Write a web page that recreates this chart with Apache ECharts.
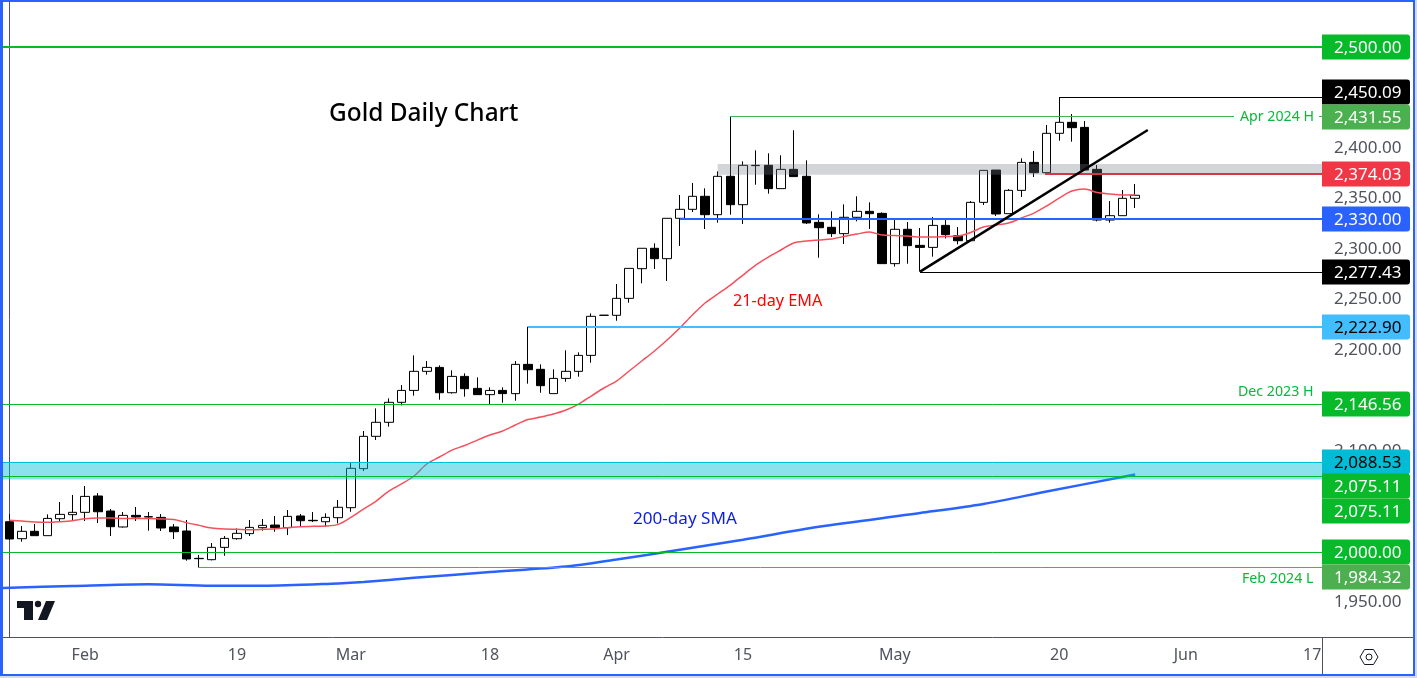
<!DOCTYPE html>
<html><head><meta charset="utf-8">
<style>html,body{margin:0;padding:0;background:#fff}#c{width:1417px;height:678px}</style>
<script src="https://cdn.jsdelivr.net/npm/echarts@6/dist/echarts.min.js"></script>
</head><body><div id="c"></div>
<script>
// ---------- data (index = trading day, 0 = 24 Jan) ----------
const opens=[2029.7,2012.9,2020.2,2015.9,2032.7,2036.7,2039.0,2055.2,2040.3,2024.5,2036.0,2034.7,2034.0,2024.5,2020.5,1993.4,1992.1,2004.3,2012.9,2017.9,2023.8,2026.4,2023.8,2035.4,2031.1,2029.7,2033.7,2043.6,
2082.3,2114.3,2128.2,2148.0,2159.8,2178.7,2182.6,2157.5,2173.7,2161.8,2155.6,2159.8,2156.6,2185.6,2180.7,2156.6,2171.7,2178.7,2194.5,2234.3,2234.2,2251.0,2280.4,2300.6,2290.3,2330.3,2339.2,2352.1,2333.9,2371.9,2343.8,2382.8,2382.8,2359.7,2378.8,2371.9,2326.3,2321.4,2315.1,2331.3,2337.2,2335.2,
2285.4,2319.4,2303.5,2301.5,2323.3,2313.1,2308.1,2346.1,2378.1,2334.9,2358.0,2385.7,2375.5,2414.5,2425.4,2420.4,2378.8,2328.6,2332.9,2350.1];
const closes=[2012.6,2020.2,2015.9,2033.0,2037.0,2039.0,2054.8,2039.6,2024.8,2036.0,2034.4,2034.4,2023.5,2019.8,1992.8,1993.1,2004.3,2013.2,2018.2,2024.1,2026.1,2023.8,2035.0,2030.7,2030.7,2034.0,2044.0,2082.6,
2114.3,2128.2,2148.0,2159.8,2178.7,2182.6,2157.5,2173.7,2161.5,2155.6,2159.8,2156.6,2185.6,2180.3,2164.5,2171.7,2178.7,2194.5,2233.2,2234.2,2251.0,2280.7,2300.6,2290.3,2330.3,2339.2,2352.1,2333.9,2371.9,2343.8,2382.8,2382.5,2359.7,2378.8,2371.6,2325.7,2321.0,2315.1,2331.3,2337.2,2334.9,2285.4,
2319.4,2303.2,2301.5,2323.3,2314.1,2308.1,2346.1,2377.8,2334.6,2358.0,2385.7,2375.5,2414.5,2425.4,2420.1,2378.1,2328.6,2332.9,2350.1,2353.1];
const lows=[2011.9,2009.9,2015.9,2015.9,2029.7,2031.4,2030.4,2028.4,2015.6,2023.8,2030.4,2020.8,2020.5,2012.6,1991.1,1984.32,1991.4,1996.0,2011.9,2015.5,2020.8,2019.8,2016.5,2024.8,2029.4,2024.8,2028.1,2039.6,
2079.9,2110.7,2123.9,2145.0,2154.6,2175.4,2150.6,2156.6,2153.6,2155.6,2146.3,2147.6,2149.6,2166.5,2157.5,2156.6,2168.4,2173.4,2187.3,2234.0,2228.8,2246.7,2265.9,2280.1,2268.2,2302.9,2336.5,2319.7,2326.0,2333.9,2324.7,2363.6,2354.7,2359.7,2371.6,2324.7,2291.3,2311.8,2304.8,2327.3,2319.7,2285.4,
2282.4,2285.3,2277.43,2292.3,2310.4,2304.5,2308.1,2343.5,2332.6,2334.9,2351.4,2371.2,2375.5,2407.2,2406.2,2378.1,2327.3,2326.0,2332.9,2340.5];
const highs=[2037.3,2025.4,2027.4,2037.0,2049.2,2056.2,2065.1,2058.1,2042.3,2039.3,2044.3,2039.3,2037.3,2027.4,2031.4,1996.7,2008.6,2015.5,2023.1,2031.4,2032.4,2035.4,2041.3,2037.3,2039.3,2038.0,2051.2,2087.9,
2119.6,2142.0,2151.9,2165.1,2194.5,2188.9,2184.6,2179.7,2176.7,2172.7,2162.8,2162.8,2188.9,2222.90,2185.6,2180.7,2199.5,2197.5,2236.1,2234.4,2265.2,2280.7,2300.6,2305.5,2330.3,2353.4,2365.3,2360.0,2376.8,2431.55,2386.7,2397.6,2394.7,2392.7,2417.5,2387.7,2334.2,2337.2,2344.1,2352.1,2346.1,2336.2,
2328.6,2326.6,2320.7,2331.6,2328.6,2321.7,2347.4,2377.8,2378.1,2359.3,2389.7,2397.0,2422.7,2450.09,2433.6,2426.7,2383.1,2347.4,2358.3,2364.3];
const ema21=[2031.1,2030.4,2029.4,2029.1,2029.7,2030.7,2032.7,2033.4,2033.4,2033.0,2033.0,2033.0,2032.4,2032.0,2028.8,2026.1,2023.5,2022.5,2022.2,2021.8,2022.2,2022.8,2023.8,2024.8,2025.1,2025.4,2027.1,2034.0,
2042.3,2050.2,2060.1,2067.1,2075.0,2086.9,2093.8,2100.7,2105.2,2110.6,2115.6,2119.6,2125.5,2130.9,2133.4,2136.4,2140.4,2146.3,2154.2,2162.2,2169.1,2179.0,2188.9,2198.8,2209.7,2221.6,2234.5,2246.4,2255.3,2264.2,2274.1,2284.0,2291.9,2298.9,2305.8,2307.8,2308.8,2309.8,2312.3,2314.7,2316.7,2313.7,
2313.2,2312.7,2311.8,2311.8,2312.3,2312.7,2316.2,2321.7,2323.7,2325.6,2330.6,2335.5,2342.5,2350.4,2357.3,2359.3,2355.8,2354.4,2353.4,2353.4];
const smaDays=[-0.5,5,11,16,20,26,28,32,38,44,48,52,58,64,72,77,82,89];
const sma200=[1964.0,1966.0,1967.7,1966.3,1966.3,1968.6,1970.0,1974.1,1979.9,1985.3,1992.3,2000.0,2011.9,2024.7,2038.3,2047.3,2059.6,2076.5];
const dateTickDays=[6,18,27,38,48,58,70,83,93,103];
const dateTickLabels=['Feb','19','Mar','18','Apr','15','May','20','Jun','17'];
const priceTicks=[1950,2100,2200,2250,2300,2350,2400];
const levelValues=[2500,2450.09,2431.55,2374.03,2330,2277.43,2222.9,2146.56,2088.53,2075.11,2000,1984.32];
const levelStartDays=[-0.5,83,57,81.9,53,72,41,-0.5,-0.5,-0.5,-0.5,15];
const levelNames=['g','k','h','r','b','k','c','gt','t','gt','gt','h'];
const trendDays=[72,90];
const trendValues=[2277.43,2417.8];
const zoneTops=[2384,2088.53];
const zoneBottoms=[2373.5,2071.5];
const zoneStartDays=[56,-0.5];
const tagValues=[2500,2450.09,2431.55,2374.03,2330,2277.43,2222.9,2146.56,2088.53,2075.11,2075.11,2000,1984.32];
const tagNames=['g','k','h','r','b','k','c','g','t','g','g','g','h'];
// ---------- drawing ----------
const FONT='"Noto Sans"', AX='#50535e';
const X_MIN=-0.498, X_MAX=103.77;
const levelStyle={g:['#08b92a',2],gt:['#08b92a',1],k:['#000',1],h:['#4caf50',1],r:['#d9344a',2],b:['#2962ff',2],c:['#42bdff',2],t:['#00bcd4',1]};
const tagStyle={g:['#08b92a','#fff'],k:['#000','#fff'],h:['#4caf50','#fff'],r:['#f23645','#fff'],b:['#2962ff','#fff'],c:['#42bdff','#000'],t:['#00bcd4','#000']};
const tagNudge=[0,-5,1,0,0,0,0,0,0,10,35,0,9];
const fmt=v=>v.toLocaleString('en-US',{minimumFractionDigits:2,maximumFractionDigits:2});
const txt=(x,y,text,font,color,w,extra)=>({type:'text',x,y,z:100,style:Object.assign({text,fill:color,font:(w||'normal')+' '+font+'px '+FONT,textVerticalAlign:'middle'},extra||{})});
const bar=(x,y,width,height,fill)=>({type:'rect',z:120,shape:{x,y,width,height},style:{fill}});
const seg=(x1,y1,x2,y2)=>({type:'line',z:90,shape:{x1,y1,x2,y2},style:{stroke:AX,lineWidth:1}});
const chart=echarts.init(document.getElementById('c'),null,{renderer:'canvas',width:1417,height:678});
chart.setOption({
  animation:false,backgroundColor:'#fff',
  grid:{left:3,top:2,width:1319,height:635,containLabel:false},
  xAxis:{type:'value',min:X_MIN,max:X_MAX,splitLine:{show:false},axisTick:{show:false},
    axisLine:{show:true,lineStyle:{color:AX,width:1}},
    axisLabel:{customValues:dateTickDays,fontFamily:FONT,fontSize:16,color:AX,margin:10,showMinLabel:true,showMaxLabel:true,hideOverlap:false,
      formatter:v=>dateTickLabels[dateTickDays.indexOf(v)]}},
  yAxis:{type:'value',position:'right',min:1915.5,max:2544.6,splitLine:{show:false},axisTick:{show:false},
    axisLine:{show:true,lineStyle:{color:AX,width:1}},
    axisLabel:{customValues:priceTicks,fontFamily:FONT,fontSize:17,color:AX,margin:12,hideOverlap:false,formatter:v=>fmt(v)}},
  series:[
    {type:'candlestick',z:3,barWidth:9,silent:true,
     itemStyle:{color:'#fff',color0:'#000',borderColor:'#000',borderColor0:'#000',borderWidth:1},
     encode:{x:0,y:[1,2,3,4]},
     data:opens.map((o,i)=>[i,o,closes[i],lows[i],highs[i]])},
    {type:'line',z:4,silent:true,symbol:'none',smooth:0.3,lineStyle:{color:'#f4505c',width:1.5},data:ema21.map((v,i)=>[i,v])},
    {type:'line',z:4,silent:true,symbol:'none',smooth:0.3,lineStyle:{color:'#2962ff',width:2.5},data:sma200.map((v,i)=>[smaDays[i],v])},
    {type:'custom',z:5,silent:true,clip:true,data:zoneTops.map((t,i)=>[zoneStartDays[i],t,zoneBottoms[i],i]),
     renderItem:(p,api)=>{const a=api.coord([api.value(0),api.value(1)]),b=api.coord([X_MAX,api.value(2)]);
       return {type:'rect',shape:{x:a[0],y:a[1],width:b[0]-a[0],height:b[1]-a[1]},
         style:{fill:api.value(3)===0?'rgba(113,118,130,0.31)':'rgba(0,191,213,0.46)'}};}},
    {type:'custom',z:6,silent:true,clip:true,data:levelValues.map((v,i)=>[levelStartDays[i],v,i]),
     renderItem:(p,api)=>{const i=api.value(2),s=levelStyle[levelNames[i]],a=api.coord([api.value(0),api.value(1)]),e=api.coord([X_MAX,api.value(1)]);
       const y=s[1]%2?Math.floor(a[1]+0.4)+0.5:Math.round(a[1]);
       return {type:'line',shape:{x1:Math.round(a[0]),y1:y,x2:e[0],y2:y},style:{stroke:s[0],lineWidth:s[1]}};}},
    {type:'line',z:7,silent:true,symbol:'none',lineStyle:{color:'#000',width:2.5},data:trendDays.map((d,i)=>[d,trendValues[i]])},
    {type:'custom',z:20,silent:true,clip:false,data:tagValues.map((v,i)=>[X_MAX,v,i]),
     renderItem:(p,api)=>{const i=api.value(2),c=api.coord([api.value(0),api.value(1)]),s=tagStyle[tagNames[i]],y=Math.round(c[1])+tagNudge[i];
       return {type:'group',children:[
         {type:'rect',shape:{x:c[0],y:y-12.5,width:88,height:25,r:[0,3,3,0]},style:{fill:s[0]}},
         {type:'text',x:c[0]+12,y:y+1,style:{text:fmt(api.value(1)),fill:s[1],font:'normal 17px '+FONT,textVerticalAlign:'middle'}}]};}}
  ],
  graphic:{elements:[
    txt(329,114,'Gold Daily Chart',24.4,'#000','500'),
    txt(733,301,'21-day EMA',16.2,'#f00'),
    txt(633,519,'200-day SMA',17.1,'#0d1de0'),
    txt(1234,117,'Apr 2024 H',14.2,'#08b93a','normal',{backgroundColor:'#fff',padding:[0,5,0,6]}),
    txt(1238,392,'Dec 2023 H',14.2,'#08b93a'),
    txt(1242,579,'Feb 2024 L',14.2,'#08b93a'),
    seg(1322.5,637,1322.5,675),seg(1322,637.5,1413,637.5),
    {type:'polygon',z:100,shape:{points:[[1360,657],[1364.5,649.5],[1373.5,649.5],[1378,657],[1373.5,664.5],[1364.5,664.5]]},style:{fill:'#fff',stroke:'#131722',lineWidth:1}},
    {type:'circle',z:100,shape:{cx:1369,cy:657,r:3},style:{fill:'#fff',stroke:'#131722',lineWidth:1}},
    {type:'polygon',z:100,shape:{points:[[17,601],[33,601],[33,620],[24,620],[24,608],[17,608]]},style:{fill:'#131722'}},
    {type:'circle',z:100,shape:{cx:38,cy:604,r:3.2},style:{fill:'#131722'}},
    {type:'polygon',z:100,shape:{points:[[46,601],[55,601],[47,620],[38,620]]},style:{fill:'#131722'}},
    bar(0,0,3,676,'#2962ff'),bar(0,0,1415,2,'#2962ff'),bar(1413,0,2,676,'#2962ff'),bar(0,674,1415,2,'#2962ff'),
    bar(1415,0,2,678,'#d6dae8'),bar(0,676,1417,2,'#d6dae8')
  ]}
});
</script></body></html>
